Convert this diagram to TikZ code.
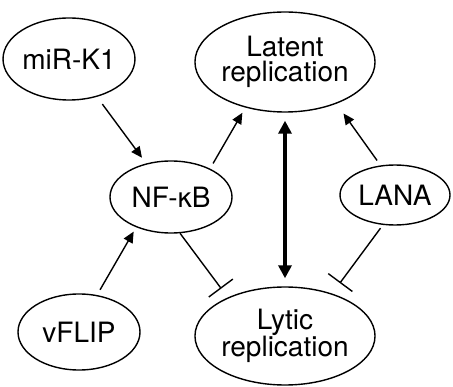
\documentclass[tikz,border=0pt]{standalone}
\usepackage{fontspec}
\setmainfont{TeX Gyre Heros}
\usetikzlibrary{shapes.geometric,arrows.meta}
\begin{document}
\begin{tikzpicture}[x=1pt,y=1pt,
  oval/.style={ellipse,draw,line width=1.4pt,inner sep=0pt,align=center,
    font=\fontsize{28}{25}\selectfont},
  act/.style={line width=1.4pt,-{Triangle[length=11pt,width=10pt]}},
  inh/.style={line width=1.4pt,-{Bar[width=30pt,line width=1.4pt]}},
  both/.style={line width=3.6pt,{Triangle[length=13pt,width=13pt]}-{Triangle[length=13pt,width=13pt]}}]
\useasboundingbox (0,0) rectangle (453,386);
\node[oval,minimum width=122pt,minimum height=82pt] (mir) at (69,327) {miR-K1};
\node[oval,minimum width=148pt,minimum height=100pt] (latent) at (285,324) {Latent\\replication};
\node[oval,minimum width=122pt,minimum height=72pt] (nfkb) at (171,189) {NF-κB};
\node[oval,minimum width=110pt,minimum height=60pt] (lana) at (395,191) {LANA};
\node[oval,minimum width=122pt,minimum height=76pt] (vflip) at (79,54) {vFLIP};
\node[oval,minimum width=148pt,minimum height=98pt] (lytic) at (285,50) {Lytic\\replication};
\draw[act,shorten <=9pt,shorten >=7pt] (mir) -- (nfkb);
\draw[act,shorten <=6pt,shorten >=6pt] (nfkb.36) -- (latent.229);
\draw[act,shorten <=6pt,shorten >=12pt] (lana.116) -- (latent.321);
\draw[act,shorten <=6pt,shorten >=5pt] (vflip.64) -- (nfkb.221);
\draw[both,shorten <=8pt,shorten >=8pt] (latent.south) -- (lytic.north);
\draw[inh,shorten >=11pt] (nfkb.284) -- (lytic.146);
\draw[inh,shorten <=4pt,shorten >=13pt] (lana.248) -- (lytic.42);
\end{tikzpicture}
\end{document}
